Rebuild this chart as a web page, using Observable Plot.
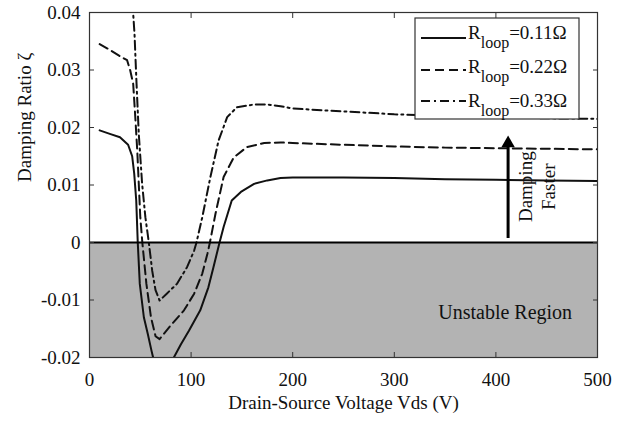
<!DOCTYPE html>
<html>
<head>
<meta charset="utf-8">
<script src="https://cdn.jsdelivr.net/npm/d3@7"></script>
<script src="https://cdn.jsdelivr.net/npm/@observablehq/plot@0.6"></script>
<style>
  body { margin: 0; background: #fff; }
</style>
</head>
<body>
<div id="chart"></div>
<script>
// ---- data ----
const seriesNames = ["R_loop=0.11Ω", "R_loop=0.22Ω", "R_loop=0.33Ω"];
const legendValues = ["=0.11Ω", "=0.22Ω", "=0.33Ω"];

const vds011 = [10, 20, 30, 38, 42, 44, 46, 47.5, 49.5, 53.5, 57.5, 61, 66, 72, 78, 83, 90, 98, 109, 117, 122, 128, 132, 140, 149, 162, 175, 188, 200, 250, 300, 350, 400, 450, 500];
const zeta011 = [0.0195, 0.0189, 0.0183, 0.0170, 0.0150, 0.0120, 0.0073, 0.0, -0.0072, -0.0130, -0.0160, -0.0188, -0.0225, -0.0245, -0.0230, -0.0200, -0.0177, -0.0153, -0.0118, -0.0078, -0.0043, 0.0, 0.0027, 0.0073, 0.0088, 0.0102, 0.0108, 0.0112, 0.0113, 0.0113, 0.0112, 0.0110, 0.0109, 0.0108, 0.0107];

const vds022 = [10, 20, 30, 37, 40, 43, 45, 47, 50, 52, 56, 60.5, 65, 69, 80, 93, 103, 111, 116, 118.5, 124, 132, 142, 155, 172, 188, 200, 250, 300, 350, 400, 450, 500];
const zeta022 = [0.0345, 0.0335, 0.0324, 0.0317, 0.0300, 0.0276, 0.0220, 0.0160, 0.0044, 0.0, -0.0072, -0.0130, -0.0163, -0.0168, -0.0144, -0.0118, -0.0089, -0.0054, -0.0020, 0.0, 0.0050, 0.0114, 0.0148, 0.0166, 0.0173, 0.0174, 0.0173, 0.0170, 0.0167, 0.0165, 0.0164, 0.0163, 0.0162];

const vds033 = [42, 43, 44.3, 46.3, 48.5, 51.8, 55, 58.4, 61.7, 65, 69, 76, 86, 96, 103, 105.3, 111, 119, 127, 135.5, 145, 162, 175, 188, 200, 250, 300, 350, 400, 450, 500];
const zeta033 = [0.045, 0.0398, 0.0363, 0.0276, 0.0189, 0.0102, 0.0044, 0.0, -0.0049, -0.0083, -0.0101, -0.0089, -0.0072, -0.0043, -0.0014, 0.0, 0.0044, 0.0114, 0.0177, 0.0218, 0.0235, 0.0240, 0.0240, 0.0237, 0.0233, 0.0228, 0.0223, 0.0220, 0.0218, 0.0216, 0.0215];

const xTicks = [0, 100, 200, 300, 400, 500];
const xTickLabels = ["0", "100", "200", "300", "400", "500"];
const yTicks = [-0.02, -0.01, 0, 0.01, 0.02, 0.03, 0.04];
const yTickLabels = ["-0.02", "-0.01", "0", "0.01", "0.02", "0.03", "0.04"];

const unstableRegion = [{x1: 0, x2: 500, y1: -0.02, y2: 0}];
const unstableLabel = [{x: 475, y: -0.0122, text: "Unstable Region"}];
const arrowX = [412];
const arrowY1 = [0.0007];
const arrowY2 = [0.0166];
const arrowHeadY = [0.01725];
const arrowText = [{x: 429.5, y: 0.0097, text: "Damping"}, {x: 452, y: 0.0097, text: "Faster"}];

const xLabel = "Drain-Source Voltage Vds (V)";
const yLabel = "Damping Ratio ζ";

// ---- build ----
const toRows = (xs, ys) => xs.map((x, i) => ({x, y: ys[i]}));
const s1 = toRows(vds011, zeta011);
const s2 = toRows(vds022, zeta022);
const s3 = toRows(vds033, zeta033);

const lineColor = "#111";
const dashes = [null, "9,5", "9,4,2,4"];

const fmtX = v => xTickLabels[xTicks.indexOf(v)] ?? "";
const fmtY = v => { const i = yTicks.findIndex(t => Math.abs(t - v) < 1e-9); return i >= 0 ? yTickLabels[i] : ""; };

const chart = Plot.plot({
  width: 627,
  height: 422,
  marginLeft: 89,
  marginRight: 30,
  marginTop: 12,
  marginBottom: 65,
  style: {fontFamily: "'Liberation Serif', 'Times New Roman', serif", fontSize: "19px", color: "#222", background: "#fff"},
  x: {domain: [0, 500]},
  y: {domain: [-0.02, 0.04]},
  marks: [
    Plot.rect(unstableRegion, {x1: "x1", x2: "x2", y1: "y1", y2: "y2", fill: "#b3b3b3"}),
    Plot.line(s1, {x: "x", y: "y", stroke: lineColor, strokeWidth: 2, clip: true}),
    Plot.line(s2, {x: "x", y: "y", stroke: lineColor, strokeWidth: 2, strokeDasharray: dashes[1], clip: true}),
    Plot.line(s3, {x: "x", y: "y", stroke: lineColor, strokeWidth: 2, strokeDasharray: dashes[2], clip: true}),
    Plot.ruleY([0], {stroke: "#000", strokeWidth: 2}),
    Plot.ruleX(arrowX, {y1: arrowY1[0], y2: arrowY2[0], stroke: "#000", strokeWidth: 3}),
    Plot.dot(arrowX, {x: d => d, y: arrowHeadY[0], symbol: "triangle", r: 5, fill: "#000", stroke: null}),
    Plot.text(arrowText, {x: "x", y: "y", text: "text", rotate: -90, fill: "#111", fontSize: 19}),
    Plot.text(unstableLabel, {x: "x", y: "y", text: "text", textAnchor: "end", fill: "#111", fontSize: 20}),
    Plot.frame({stroke: "#333", strokeWidth: 1.2}),
    Plot.axisX({anchor: "bottom", ticks: xTicks, tickSize: -5, tickPadding: 20, tickFormat: fmtX, label: null, fill: "#111", stroke: "#333"}),
    Plot.axisX({anchor: "top", ticks: xTicks, tickSize: -5, tickFormat: () => "", label: null, stroke: "#333"}),
    Plot.axisY({anchor: "left", ticks: yTicks, tickSize: -5, tickPadding: 14, tickFormat: fmtY, label: null, fill: "#111", stroke: "#333"}),
    Plot.axisY({anchor: "right", ticks: yTicks, tickSize: -5, tickFormat: () => "", label: null, stroke: "#333"}),
    Plot.text([xLabel], {frameAnchor: "bottom", dy: 51, text: d => d, fill: "#111", fontSize: 19}),
    Plot.text([yLabel], {frameAnchor: "left", dx: -65, dy: -3, text: d => d, rotate: -90, fill: "#111", fontSize: 19})
  ]
});

document.getElementById("chart").appendChild(chart);

// ---- legend (inside plot, top-right) ----
const svg = d3.select(chart);
const lg = svg.append("g")
  .attr("font-family", "'Liberation Serif', 'Times New Roman', serif")
  .attr("text-anchor", "start")
  .attr("fill", "#111");
lg.append("rect").attr("x", 415).attr("y", 18).attr("width", 164).attr("height", 101)
  .attr("fill", "#fff").attr("stroke", "#333").attr("stroke-width", 1.2);
const baselines = [39, 73, 107];
const lineYs = [38, 70, 101];
seriesNames.forEach((name, i) => {
  const l = lg.append("line").attr("x1", 421).attr("x2", 466).attr("y1", lineYs[i]).attr("y2", lineYs[i])
    .attr("stroke", lineColor).attr("stroke-width", 2);
  if (dashes[i]) l.attr("stroke-dasharray", dashes[i]);
  const t = lg.append("text").attr("x", 468).attr("y", baselines[i]).attr("font-size", 19).attr("text-anchor", "start");
  t.append("tspan").text("R");
  t.append("tspan").attr("dy", 9).attr("font-size", 16).text("loop");
  t.append("tspan").attr("dy", -9).text(legendValues[i]);
});
</script>
</body>
</html>
